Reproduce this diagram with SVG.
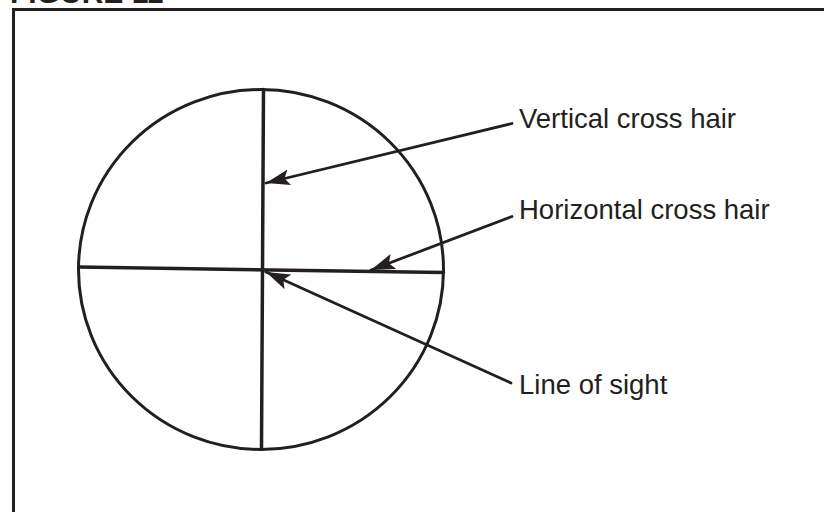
<svg xmlns="http://www.w3.org/2000/svg" width="824" height="512" viewBox="0 0 824 512">
<style>
.ink{stroke:#231f20;fill:none;stroke-linecap:round}
.lbl{font-family:"Liberation Sans",Arial,sans-serif;font-size:27.5px;fill:#231f20}
.ttl{font-family:"Liberation Sans",Arial,sans-serif;font-size:30px;font-weight:bold;fill:#231f20}
</style>
<defs>
<marker id="ah" markerUnits="userSpaceOnUse" markerWidth="26" markerHeight="16" viewBox="0 0 26 16" refX="24" refY="8" orient="auto">
<path d="M0,0 L24,8 L0,16 L5,8 Z" fill="#231f20"/>
</marker>
</defs>
<rect width="824" height="512" fill="#fff"/>
<text class="ttl" x="10" y="3">FIGURE 11</text>
<path class="ink" d="M13.5,520 L13.5,9.5 L830,9.5" stroke-width="3"/>
<g id="scope">
<ellipse class="ink" cx="261" cy="269.5" rx="182.5" ry="180" stroke-width="3"/>
</g>
<g id="vertical-hair">
<line class="ink" x1="263.5" y1="89.5" x2="261.5" y2="449" stroke-width="3.5"/>
</g>
<g id="horizontal-hair">
<line class="ink" x1="79" y1="267" x2="443.5" y2="272.5" stroke-width="3.5"/>
</g>
<g id="connectors">
<line class="ink" x1="512" y1="123.5" x2="266" y2="183" stroke-width="2.8" marker-end="url(#ah)"/>
<line class="ink" x1="512" y1="216.5" x2="371" y2="270" stroke-width="2.8" marker-end="url(#ah)"/>
<line class="ink" x1="511" y1="383" x2="266" y2="272" stroke-width="2.8" marker-end="url(#ah)"/>
</g>
<g id="label-vertical"><text class="lbl" x="519" y="128">Vertical cross hair</text></g>
<g id="label-horizontal"><text class="lbl" x="519" y="219">Horizontal cross hair</text></g>
<g id="label-sight"><text class="lbl" x="519" y="394">Line of sight</text></g>
</svg>
